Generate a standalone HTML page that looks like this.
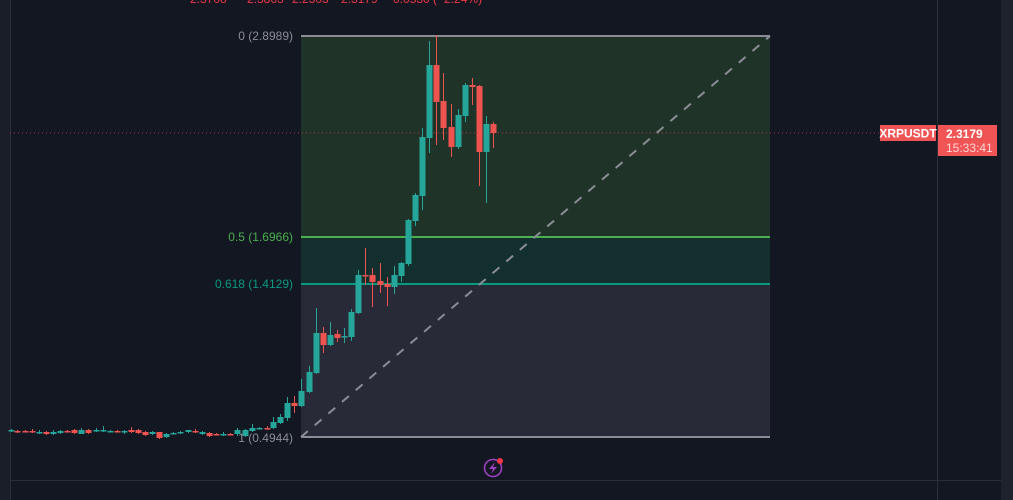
<!DOCTYPE html>
<html><head><meta charset="utf-8"><style>
html,body{margin:0;padding:0;background:#131722;width:1013px;height:500px;overflow:hidden}
svg{display:block;font-family:"Liberation Sans",sans-serif}
</style></head><body>
<svg id="s" width="1013" height="500" xmlns="http://www.w3.org/2000/svg">
<rect width="1013" height="500" fill="#131722"/>
<rect x="0" y="0" width="10" height="500" fill="#1a1e29"/>
<rect x="1001" y="0" width="12" height="500" fill="#1e222d"/>
<line x1="10.5" y1="0" x2="10.5" y2="500" stroke="#2a2e39"/>
<line x1="937.5" y1="0" x2="937.5" y2="500" stroke="#2a2e39"/>
<line x1="10" y1="480.5" x2="1001" y2="480.5" stroke="#2a2e39"/>
<g fill="#f23645" font-size="12">
<text x="190" y="3">2.3708</text><text x="247" y="3">2.3863</text><text x="292" y="3">2.2303</text><text x="341" y="3">2.3179</text><text x="386" y="3">−0.0530 (−2.24%)</text>
</g>
<rect x="301" y="36" width="469" height="201" fill="#1f3328"/>
<rect x="301" y="237" width="469" height="47" fill="#13302f"/>
<rect x="301" y="284" width="469" height="153" fill="#282a38"/>
<line x1="301" y1="36" x2="770" y2="36" stroke="#8a8d96" stroke-width="2"/>
<line x1="301" y1="237" x2="770" y2="237" stroke="#4caf50" stroke-width="2"/>
<line x1="301" y1="284" x2="770" y2="284" stroke="#089981" stroke-width="2"/>
<line x1="301" y1="437" x2="770" y2="437" stroke="#8a8d96" stroke-width="2"/>
<line x1="301" y1="437" x2="770" y2="36" stroke="#8a8d96" stroke-width="2" stroke-dasharray="9,9"/>
<text x="293" y="40" fill="#8a8d96" font-size="12" text-anchor="end">0 (2.8989)</text>
<text x="293" y="241" fill="#4caf50" font-size="12" text-anchor="end">0.5 (1.6966)</text>
<text x="293" y="288" fill="#089981" font-size="12" text-anchor="end">0.618 (1.4129)</text>
<text x="293" y="442" fill="#8a8d96" font-size="12" text-anchor="end">1 (0.4944)</text>
<line x1="10" y1="133" x2="880" y2="133" stroke="#f23645" stroke-opacity="0.7" stroke-dasharray="1,3"/>
<g id="c"></g>
<rect x="880" y="125" width="56" height="16" fill="#f05454"/>
<text x="908" y="137.5" fill="#fff" font-size="12" font-weight="bold" text-anchor="middle">XRPUSDT</text>
<rect x="938" y="125" width="59" height="31" fill="#f05454"/>
<text x="946" y="138" fill="#fff" font-size="12" font-weight="bold">2.3179</text>
<text x="946" y="152" fill="#ffd6d6" font-size="12">15:33:41</text>
<circle cx="493" cy="468" r="8.5" fill="none" stroke="#9c3fc0" stroke-width="1.6"/>
<path d="M495 462 L489 469 L493 469 L491 474 L497 467 L493 467 Z" fill="#9c3fc0"/>
<circle cx="500" cy="461" r="3" fill="#f23645"/>
</svg>
<script>
var G="#26a69a",R="#ef5350";
var d=[
[11,431,430,429,432],[17,431,432,430,433],[25,431,431,430,432],[32,431,432,429,433],[39,432,432,430,434],[46,432,434,431,435],
[53,434,432,430,435],[60,433,431,430,434],[67,431,431,430,432],[74,430,433,429,434],[81,434,430,428,434],[88,430,433,429,434],
[96,431,430,428,432],[103,431,430,426,432],[110,431,431,430,432],[117,431,431,430,432],[124,432,431,430,434],[131,430,432,427,433],
[138,430,433,429,434],[145,432,435,431,436],[152,434,432,431,435],[159,432,438,432,439],[166,437,434,433,438],[173,433,433,432,434],
[180,433,432,431,434],[188,432,430,430,433],[195,431,432,429,433],[202,434,432,431,435],[209,433,436,432,437],[216,434,434,433,435],
[223,434,434,432,436],[230,434,434,433,435],[237,434,430,428,436],[245,436,430,429,437],[252,431,428,424,432],[259,428,428,427,429],
[267,428,428,426,430],[273,428,422,417,429],[280,423,417,414,424],[287,418,403,397,421],[294,403,406,396,413],[301,406,391,379,407],
[309,392,372,366,393],[316,373,333,308,374],[323,333,345,327,353],[330,345,335,322,346],[337,334,338,330,342],[344,336,336,328,343],
[351,337,312,309,341],[358,313,275,270,314],[365,275,275,248,285],[372,275,282,268,307],[380,281,285,263,293],[387,284,287,277,306],
[394,287,275,266,294],[401,276,263,262,282],[408,264,220,219,266],[415,221,195,193,226],[422,196,137,128,210],[429,138,65,41,153],
[436,65,102,35,145],[443,101,128,73,140],[451,127,147,104,157],[458,147,115,109,149],[465,116,85,83,122],[472,85,87,78,105],
[479,86,152,85,186],[486,152,124,116,203],[493,124,133,122,148]];
var s="",k=0;
d.forEach(function(c){var col=c[2]<c[1]?G:(c[2]>c[1]?R:((k++)%2?G:R));
var t=Math.min(c[1],c[2]),h=Math.max(1.5,Math.abs(c[2]-c[1]));
s+='<line x1="'+(c[0]+0.5)+'" x2="'+(c[0]+0.5)+'" y1="'+c[3]+'" y2="'+c[4]+'" stroke="'+col+'" stroke-width="1"/>';
s+='<rect x="'+(c[0]-2.5)+'" y="'+t+'" width="6" height="'+h+'" fill="'+col+'"/>';});
document.getElementById("c").innerHTML=s;
</script>
</body></html>
